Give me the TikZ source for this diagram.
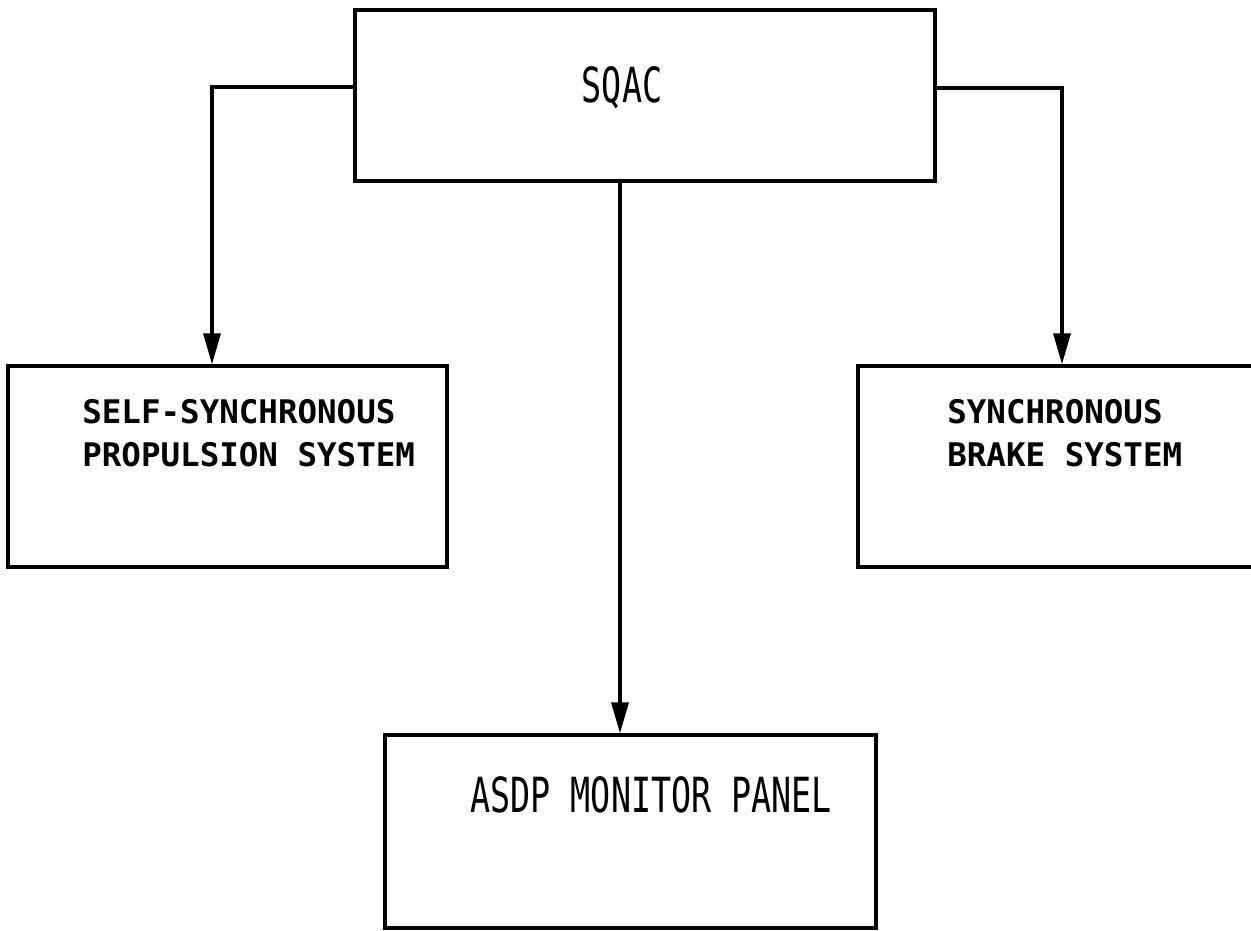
\documentclass[tikz,border=0pt]{standalone}
\usepackage{fontspec}
\usepackage{graphicx}
\newfontfamily\plotfont{DejaVu Sans Mono}
\usetikzlibrary{arrows.meta}

\begin{document}
\begin{tikzpicture}[
    x=0.02cm, y=-0.02cm,
    box/.style={draw, line width=1.9pt, inner sep=0pt},
    link/.style={line width=1.9pt, -{Triangle[length=0.62cm, width=0.34cm]}},
    lbl/.style={anchor=west, inner sep=0pt, align=left, font=\plotfont\bfseries\fontsize{18.5pt}{24.5pt}\selectfont},
    tall/.style={inner sep=0pt, font=\plotfont\fontsize{19pt}{22pt}\selectfont},
  ]
  % Frame of the scanned page
  \clip (0,0) rectangle (1251,930);

  % --- Blocks ---
  \node[box, minimum width=11.6cm, minimum height=3.42cm] (sqac) at (645,95.5) {};
  \node[box, minimum width=8.78cm, minimum height=4.02cm] (prop) at (227.5,466.5) {};
  \node[box, minimum width=8.08cm, minimum height=4.02cm] (brake) at (1060,466.5) {};
  \node[box, minimum width=9.82cm, minimum height=3.86cm] (panel) at (630.5,831.5) {};

  % --- Texts ---
  \node[tall] (sqactxt) at (622,88) {\scalebox{1}[1.45]{SQAC}};
  \node[lbl] (proptxt) at (82,433.5) {SELF-SYNCHRONOUS\\PROPULSION SYSTEM};
  \node[lbl] (braketxt) at (947,433.5) {SYNCHRONOUS\\BRAKE SYSTEM};
  \node[tall, anchor=west] (paneltxt) at (470,795) {\scalebox{1}[1.45]{ASDP MONITOR PANEL}};

  % --- Links ---
  \draw[link] (sqac.west |- 0,87) -| (prop.north -| 212,0);
  \draw[link] (sqac.east |- 0,88) -| (brake.north -| 1062,0);
  \draw[link] (sqac.south -| 620,0) -- (panel.north -| 620,0);
\end{tikzpicture}
\end{document}
